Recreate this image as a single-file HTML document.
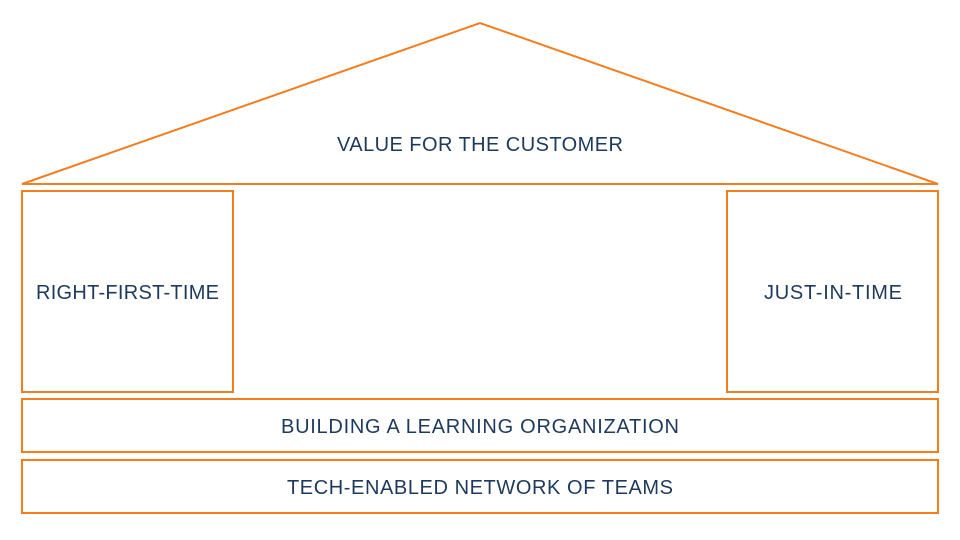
<!DOCTYPE html>
<html><head><meta charset="utf-8"><style>
html,body{margin:0;padding:0;background:#fff;}
svg{display:block;}
text{font-family:"Liberation Sans",Arial,sans-serif;font-size:20px;fill:#1d3a5c;text-anchor:middle;dominant-baseline:central;}
</style></head><body>
<svg width="960" height="540" viewBox="0 0 960 540">
<g fill="none" stroke="#f47d20" stroke-width="2">
<polygon points="22,184 480,23 938,184"/>
<rect x="22" y="191" width="211" height="201"/>
<rect x="727" y="191" width="211" height="201"/>
<rect x="22" y="399" width="916" height="53"/>
<rect x="22" y="460" width="916" height="53"/>
</g>
<text x="480" y="145" textLength="286" lengthAdjust="spacing">VALUE FOR THE CUSTOMER</text>
<text x="127.5" y="293" textLength="183" lengthAdjust="spacing">RIGHT-FIRST-TIME</text>
<text x="833" y="293" textLength="138" lengthAdjust="spacing">JUST-IN-TIME</text>
<text x="480" y="427" textLength="398" lengthAdjust="spacing">BUILDING A LEARNING ORGANIZATION</text>
<text x="480" y="488" textLength="386" lengthAdjust="spacing">TECH-ENABLED NETWORK OF TEAMS</text>
</svg>
</body></html>
